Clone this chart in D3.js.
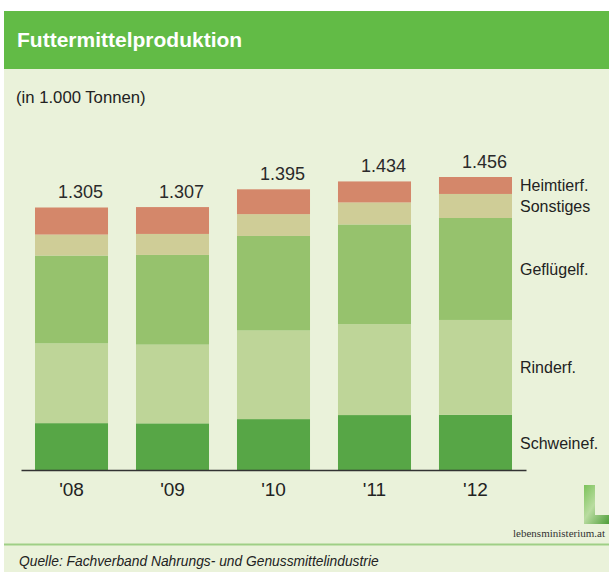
<!DOCTYPE html>
<html>
<head>
<meta charset="utf-8">
<script src="https://cdn.jsdelivr.net/npm/d3@7"></script>
<style>
  body { margin: 0; background: #fff; }
  svg { display: block; font-family: "Liberation Sans", Arial, sans-serif; }
</style>
</head>
<body>
<svg id="chart"></svg>
<script>
// data (in 1.000 Tonnen)
var years = ["'08", "'09", "'10", "'11", "'12"]
var totals = ["1.305", "1.307", "1.395", "1.434", "1.456"]
var series = ["Schweinef.", "Rinderf.", "Geflügelf.", "Sonstiges", "Heimtierf."]
var schwein = [237, 236, 257, 277, 278]
var rinder = [395, 390, 439, 450, 470]
var gefluegel = [435, 444, 468, 494, 505]
var sonstiges = [104, 104, 108, 109, 119]
var heimtier = [134, 133, 123, 104, 84]
var colors = ["#57a646", "#bed598", "#96c26d", "#cfcd97", "#d4876a"]

var W = 609, H = 572
var svg = d3.select("#chart").attr("width", W).attr("height", H)

// backgrounds
svg.append("rect").attr("x", 4).attr("y", 69).attr("width", W - 4).attr("height", H - 69)
    .attr("fill", "#eaf2da")
svg.append("rect").attr("x", 4).attr("y", 11).attr("width", W - 4).attr("height", 58)
    .attr("fill", "#62bb46")

svg.append("text").attr("x", 17).attr("y", 47)
    .attr("fill", "#fff").attr("font-weight", "bold").attr("font-size", 21)
    .text("Futtermittelproduktion")

svg.append("text").attr("x", 16).attr("y", 103)
    .attr("fill", "#222").attr("font-size", 16.7)
    .text("(in 1.000 Tonnen)")

// build table for stacking
var table = years.map(function(y, i) {
    return {year: y, total: totals[i],
        "Schweinef.": schwein[i], "Rinderf.": rinder[i], "Geflügelf.": gefluegel[i],
        "Sonstiges": sonstiges[i], "Heimtierf.": heimtier[i]}
})
var stacked = d3.stack().keys(series)(table)

var x = d3.scaleBand()
    .domain(years)
    .range([21, 526])
    .paddingInner(0.277)
    .paddingOuter(0.1386)

var y = d3.scaleLinear()
    .domain([0, 1456])
    .range([471, 177])

var layers = svg.append("g").selectAll("g")
    .data(stacked)
    .enter()
    .append("g")
    .attr("fill", function(d, i) { return colors[i] })

layers.selectAll("rect")
    .data(function(d) { return d })
    .enter()
    .append("rect")
    .attr("x", function(d) { return x(d.data.year) })
    .attr("width", x.bandwidth())
    .attr("y", function(d) { return y(d[1]) })
    .attr("height", function(d) { return y(d[0]) - y(d[1]) })

// totals above bars
var topLayer = stacked[stacked.length - 1]
svg.append("g").selectAll("text")
    .data(topLayer)
    .enter()
    .append("text")
    .attr("x", function(d) { return x(d.data.year) + x.bandwidth() / 2 + 9 })
    .attr("y", function(d) { return y(d[1]) - 9 })
    .attr("text-anchor", "middle")
    .attr("font-size", 18)
    .attr("fill", "#2a2a2a")
    .text(function(d) { return d.data.total })

// baseline
var xAxis = d3.axisBottom(x).tickSize(0).tickPadding(12.5)
var axisG = svg.append("g")
    .attr("transform", "translate(0,470)")
    .call(xAxis)
axisG.select(".domain").attr("stroke", "#333").attr("stroke-width", 1.5)
axisG.selectAll("text").attr("font-size", 19).attr("fill", "#222")
    .attr("font-family", "Liberation Sans, Arial, sans-serif")

// series labels next to the last bar
var last = years.length - 1
svg.append("g").selectAll("text")
    .data(stacked)
    .enter()
    .append("text")
    .attr("x", 520)
    .attr("y", function(d) { return (y(d[last][0]) + y(d[last][1])) / 2 })
    .attr("dy", "0.35em")
    .attr("font-size", 16)
    .attr("fill", "#222")
    .text(function(d) { return d.key })

// logo
var grad = svg.append("defs").append("linearGradient")
    .attr("id", "lg").attr("x1", 0).attr("y1", 0).attr("x2", 1).attr("y2", 1)
grad.append("stop").attr("offset", "0%").attr("stop-color", "#7cc35a")
grad.append("stop").attr("offset", "45%").attr("stop-color", "#b9dca0")
grad.append("stop").attr("offset", "100%").attr("stop-color", "#4f9e3a")
svg.append("path")
    .attr("d", "M584,485 L595,485 L595,515 L609,515 L609,524 L584,524 Z")
    .attr("fill", "url(#lg)")
svg.append("text").attr("x", 605).attr("y", 537)
    .attr("text-anchor", "end")
    .attr("font-family", "Liberation Serif, Times New Roman, serif")
    .attr("font-size", 11).attr("fill", "#333")
    .text("lebensministerium.at")

// footer
svg.append("line").attr("x1", 4).attr("x2", W).attr("y1", 544.5).attr("y2", 544.5)
    .attr("stroke", "#9fcf86").attr("stroke-width", 2)
svg.append("text").attr("x", 19).attr("y", 566)
    .attr("font-style", "italic").attr("font-size", 13.8).attr("fill", "#222")
    .text("Quelle: Fachverband Nahrungs- und Genussmittelindustrie")
</script>
</body>
</html>
